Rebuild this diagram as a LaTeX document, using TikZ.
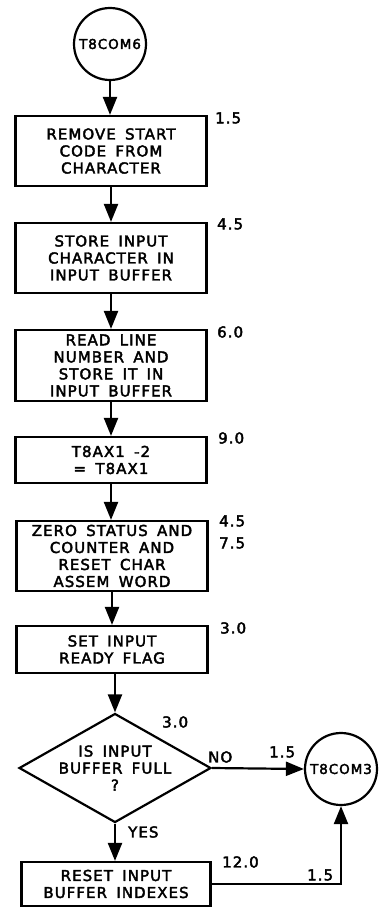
\documentclass[tikz,border=0pt]{standalone}
\usepackage{fontspec}
\setmainfont{DejaVu Sans}[LetterSpace=7,WordSpace=1.6,FakeBold=2.6]
\usepackage{tikz}
\usetikzlibrary{arrows.meta,positioning,shapes.geometric}
\tikzset{
  box/.style={draw, line width=2.2pt, minimum width=191pt, inner sep=0pt,
              align=center, font=\fontsize{15}{17}\selectfont},
  decide/.style={draw, diamond, line width=2.2pt, aspect=1.76, inner sep=0pt,
              minimum width=188pt, minimum height=107pt, align=center,
              font=\fontsize{15}{17}\selectfont},
  term/.style={draw, circle, line width=2.2pt, minimum size=72pt, inner sep=0pt,
              font=\fontsize{13.5}{15}\selectfont},
  flow/.style={-{Triangle[length=18pt,width=14pt]}, line width=2.2pt},
  cost/.style={anchor=west, inner sep=0pt, font=\fontsize{15}{15}\selectfont},
}
\begin{document}
\begin{tikzpicture}[x=1pt,y=-1pt]
    \useasboundingbox (0,0) rectangle (381,910);
    \node[term] (start) at (110,44) {T8COM6};
    \node[box,minimum height=70pt] (rmv) at (111,151)
      {REMOVE START\\CODE FROM\\CHARACTER};
    \node[box,minimum height=70pt] (store) at (111,258)
      {STORE INPUT\\CHARACTER IN\\INPUT BUFFER};
    \node[box,minimum height=71pt] (readln) at (111,365.5)
      {READ LINE\\NUMBER AND\\STORE IT IN\\INPUT BUFFER};
    \node[box,minimum height=46pt] (decr) at (111,460)
      {T8AX1 -2\\= T8AX1};
    \node[box,minimum height=70pt] (zero) at (112,556)
      {ZERO STATUS AND\\COUNTER AND\\RESET CHAR\\ASSEM WORD};
    \node[box,minimum height=47pt] (rdy) at (112,649.5)
      {SET INPUT\\READY FLAG};
    \node[decide] (full) at (115,768) {IS INPUT\\BUFFER FULL\\?};
    \node[box,minimum height=44pt,minimum width=189pt] (rst) at (116,884)
      {RESET INPUT\\BUFFER INDEXES};
    \node[term] (exit) at (341,769) {T8COM3};

    \draw[flow] (start) -- (start |- rmv.north);
    \draw[flow] (rmv) -- (store);
    \draw[flow] (store) -- (readln);
    \draw[flow] (readln) -- (decr);
    \draw[flow] (decr.south) -- (decr.south |- zero.north);
    \draw[flow] (zero) -- (rdy);
    \draw[flow] (rdy.south -| full.north) -- (full.north);
    \draw[flow] (full) -- (full.south |- rst.north);
    \draw[flow] (full.east) -- (exit.west);
    \draw[flow] (rst.east) -| (exit.south);

    \node[cost] (c1) at (215,118) {1.5};
    \node[cost] (c2) at (217,224) {4.5};
    \node[cost] (c3) at (217,332) {6.0};
    \node[cost] (c4) at (218,438) {9.0};
    \node[cost] (c5) at (219,521) {4.5};
    \node[cost] (c5b) at (219,543) {7.5};
    \node[cost] (c6) at (220,628) {3.0};
    \node[cost] (c7) at (162,722) {3.0};
    \node[cost] (no) at (208,757) {NO};
    \node[cost] (c8) at (269,752) {1.5};
    \node[cost] (yes) at (128,832) {YES};
    \node[cost] (c9) at (222,862) {12.0};
    \node[cost] (c10) at (307,875) {1.5};
  \end{tikzpicture}
\end{document}
